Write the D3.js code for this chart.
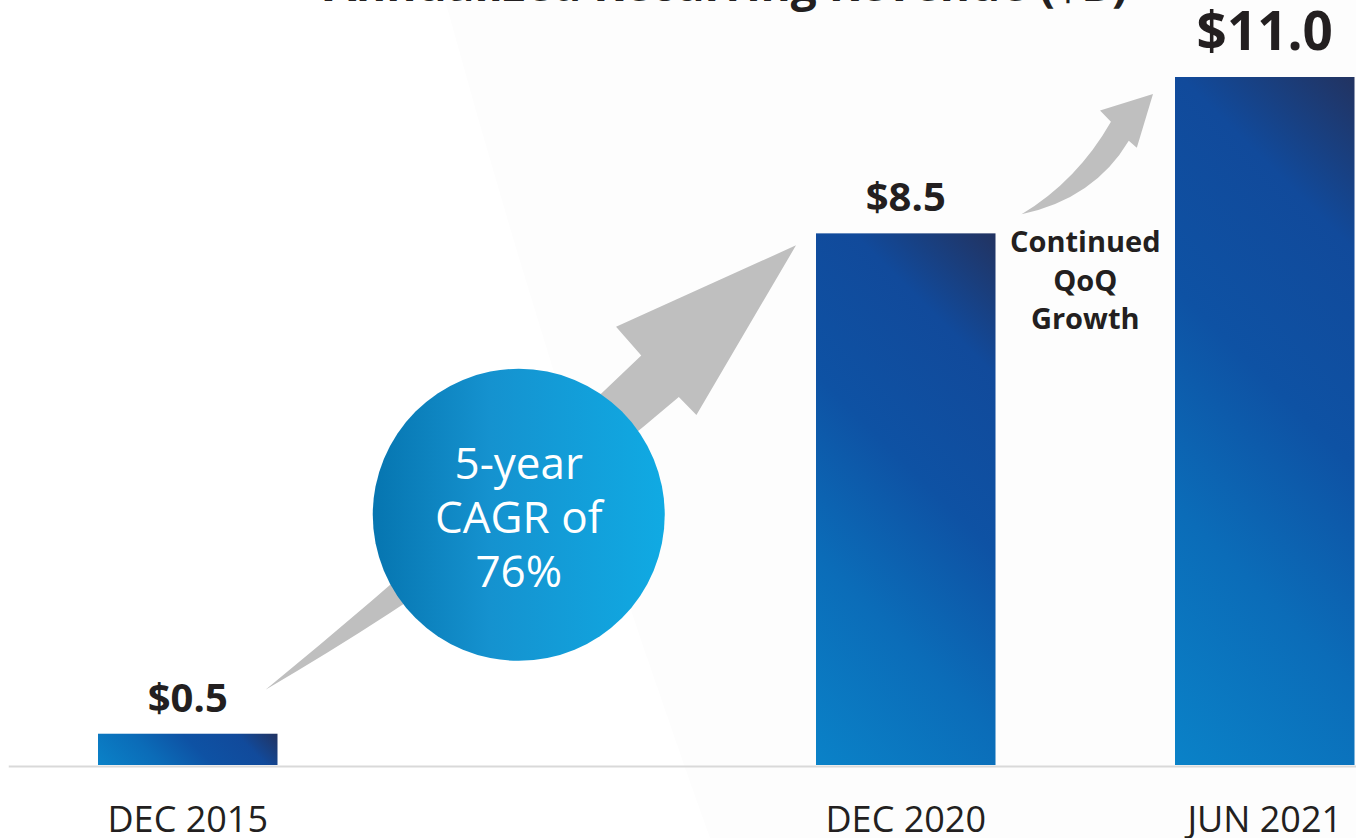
<!DOCTYPE html>
<html>
<head>
<meta charset="utf-8">
<script src="https://cdn.jsdelivr.net/npm/d3@7"></script>
<style>
  html, body { margin: 0; padding: 0; background: #ffffff; }
  svg { display: block; }
  text { font-family: "Open Sans", "Noto Sans", sans-serif; }
</style>
</head>
<body>
<svg id="chart" width="1356" height="838"></svg>
<script>
// ---- data ----
const title = "Annualized Recurring Revenue ($B)";
const categories = ["DEC 2015", "DEC 2020", "JUN 2021"];
const values = [0.5, 8.5, 11.0];
const valueLabels = ["$0.5", "$8.5", "$11.0"];
const circleLines = ["5-year", "CAGR of", "76%"];
const growthLines = ["Continued", "QoQ", "Growth"];

// x slots: an empty slot between 2015 and 2020 (time gap)
const xDomain = [categories[0], "", categories[1], categories[2]];

const W = 1356, H = 838;
const svg = d3.select("#chart");
const defs = svg.append("defs");

// faint background wedge
svg.append("path")
  .attr("d", "M445,0 L1356,0 L1356,838 L710,838 Q560,420 445,0 Z")
  .attr("fill", "#fdfdfd");

const x = d3.scaleBand().domain(xDomain).range([8.25, 1444.25])
  .paddingInner(0.5).paddingOuter(0.25);
const y = d3.scaleLinear().domain([0, 11]).range([765, 77]);
const bw = x.bandwidth();

// title (cut off at the top)
svg.append("text").attr("x", 726).attr("y", 1)
  .attr("text-anchor", "middle").attr("font-size", 46).attr("font-weight", 700)
  .attr("fill", "#231f20").text(title);

// bar gradients (45deg in screen space, per bar)
const stops = [[0, "#0a82c8"], [0.3, "#0b6cb8"], [0.55, "#0e52a4"], [0.8, "#114a9b"], [1, "#223361"]];
values.forEach((v, i) => {
  const x0 = x(categories[i]), yb = y(0), h = y(0) - y(v);
  const s = (bw + h) / 2;
  const g = defs.append("linearGradient").attr("id", "bg" + i)
    .attr("gradientUnits", "userSpaceOnUse")
    .attr("x1", x0).attr("y1", yb).attr("x2", x0 + s).attr("y2", yb - s);
  stops.forEach(st => g.append("stop").attr("offset", st[0]).attr("stop-color", st[1]));
});

// circle gradient
const cg = defs.append("linearGradient").attr("id", "cg").attr("x1", 0).attr("y1", 0).attr("x2", 1).attr("y2", 0);
[[0, "#0675b0"], [0.4, "#1592cf"], [1, "#10aae3"]].forEach(st =>
  cg.append("stop").attr("offset", st[0]).attr("stop-color", st[1]));

// axis
const axis = d3.axisBottom(x).tickSize(0).tickSizeOuter(0).tickPadding(40);
const gAx = svg.append("g").attr("transform", `translate(0,${y(0) + 1})`).call(axis);
gAx.select(".domain").attr("stroke", "#d9d9d9").attr("stroke-width", 2);
gAx.selectAll(".tick text").attr("font-size", 36).attr("fill", "#231f20")
  .attr("font-family", "'Open Sans', sans-serif");

// bars
svg.append("g").selectAll("rect").data(values).join("rect")
  .attr("x", (d, i) => x(categories[i]))
  .attr("y", d => y(d))
  .attr("width", bw)
  .attr("height", d => y(0) - y(d))
  .attr("fill", (d, i) => `url(#bg${i})`);

// arrow helper: shape in local coords (u along chord, v perpendicular, px for nominal length)
function arrowPath(S, E, nominal, shape) {
  const dx = E[0] - S[0], dy = E[1] - S[1];
  const L = Math.hypot(dx, dy), k = L / nominal;
  const d = [dx / L, dy / L], n = [dy / L, -dx / L];
  const P = ([u, v]) => [S[0] + d[0] * u * k + n[0] * v * k, S[1] + d[1] * u * k + n[1] * v * k];
  const p = d3.path();
  const t = P([0, 0]);
  p.moveTo(t[0], t[1]);
  let c = P(shape.upC), q = P(shape.upN);
  p.quadraticCurveTo(c[0], c[1], q[0], q[1]);
  [shape.upB, [nominal, 0], shape.loB, shape.loN].forEach(pt => { const r = P(pt); p.lineTo(r[0], r[1]); });
  c = P(shape.loC);
  p.quadraticCurveTo(c[0], c[1], t[0], t[1]);
  p.closePath();
  return p.toString();
}

// big arrow (2015 -> 2020)
const bigS = [x(categories[0]) + bw - 12, y(values[0]) - 44];
const bigE = [x(categories[1]) - 20, y(values[1]) + 12];
svg.append("path").attr("fill", "#bfbfbf").attr("d", arrowPath(bigS, bigE, 691, {
  upC: [251, -2.9], upN: [502, 15], upB: [501, 53],
  loB: [506, -66], loN: [504, -41], loC: [252, -43.5]
}));

// small arrow (2020 -> 2021)
const smS = [x(categories[1]) + bw + 26, y(values[1]) - 19];
const smE = [x(categories[2]) - 22, y(values[2]) + 17];
svg.append("path").attr("fill", "#bfbfbf").attr("d", arrowPath(smS, smE, 178.3, {
  upC: [64, -12.9], upN: [128.5, 7.9], upB: [128, 23.5],
  loB: [130, -28.8], loN: [128.8, -18.2], loC: [64.4, -37.7]
}));

// CAGR circle
const cx = x("") + bw / 2 - 28, cy = y(4.0);
svg.append("circle").attr("cx", cx).attr("cy", cy).attr("r", 146).attr("fill", "url(#cg)");
svg.append("g").selectAll("text").data(circleLines).join("text")
  .attr("x", cx).attr("y", (d, i) => cy - 36 + i * 54)
  .attr("text-anchor", "middle").attr("font-size", 44).attr("fill", "#ffffff")
  .text(d => d);

// value labels
svg.append("g").selectAll("text").data(values).join("text")
  .attr("x", (d, i) => x(categories[i]) + bw / 2)
  .attr("y", (d, i) => y(d) - (i === values.length - 1 ? 27 : 22))
  .attr("text-anchor", "middle").attr("font-weight", 700)
  .attr("font-size", (d, i) => i === values.length - 1 ? 53 : 40)
  .attr("fill", "#231f20")
  .text((d, i) => valueLabels[i]);

// growth note
const gx = (x(categories[1]) + bw + x(categories[2])) / 2;
svg.append("g").selectAll("text").data(growthLines).join("text")
  .attr("x", gx).attr("y", (d, i) => y(values[1]) + 19 + i * 38.5)
  .attr("text-anchor", "middle").attr("font-weight", 700).attr("font-size", 29)
  .attr("fill", "#231f20").text(d => d);
</script>
</body>
</html>
